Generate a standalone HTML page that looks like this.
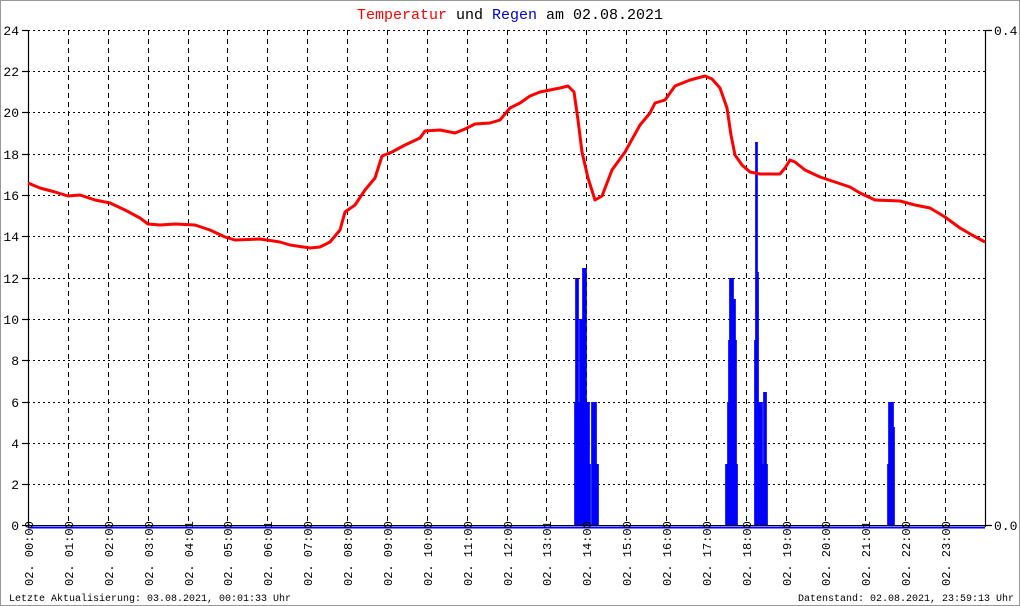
<!DOCTYPE html>
<html><head><meta charset="utf-8"><style>
html,body{margin:0;padding:0;background:#fff}
svg{display:block}
text{font-family:"Liberation Mono","DejaVu Sans Mono",monospace}
</style></head><body>
<svg width="1020" height="606" viewBox="0 0 1020 606" xmlns="http://www.w3.org/2000/svg">
<rect x="0.5" y="0.5" width="1019" height="605" fill="#fff" stroke="#999" stroke-width="1"/>
<text x="510" y="19" text-anchor="middle" font-size="15"><tspan fill="#ff0000">Temperatur</tspan><tspan fill="#000"> und </tspan><tspan fill="#0000cc">Regen</tspan><tspan fill="#000"> am 02.08.2021</tspan></text>
<g stroke="#000" stroke-width="1" stroke-dasharray="2,3">
<line x1="28" x2="985" y1="30.5" y2="30.5"/><line x1="28" x2="985" y1="71.5" y2="71.5"/><line x1="28" x2="985" y1="112.5" y2="112.5"/><line x1="28" x2="985" y1="154.5" y2="154.5"/><line x1="28" x2="985" y1="195.5" y2="195.5"/><line x1="28" x2="985" y1="236.5" y2="236.5"/><line x1="28" x2="985" y1="278.5" y2="278.5"/><line x1="28" x2="985" y1="319.5" y2="319.5"/><line x1="28" x2="985" y1="360.5" y2="360.5"/><line x1="28" x2="985" y1="402.5" y2="402.5"/><line x1="28" x2="985" y1="443.5" y2="443.5"/><line x1="28" x2="985" y1="484.5" y2="484.5"/>
</g>
<g stroke="#000" stroke-width="1" stroke-dasharray="5,4">
<line y1="30" y2="526" x1="68.5" x2="68.5"/><line y1="30" y2="526" x1="108.5" x2="108.5"/><line y1="30" y2="526" x1="148.5" x2="148.5"/><line y1="30" y2="526" x1="188.5" x2="188.5"/><line y1="30" y2="526" x1="227.5" x2="227.5"/><line y1="30" y2="526" x1="267.5" x2="267.5"/><line y1="30" y2="526" x1="307.5" x2="307.5"/><line y1="30" y2="526" x1="347.5" x2="347.5"/><line y1="30" y2="526" x1="387.5" x2="387.5"/><line y1="30" y2="526" x1="427.5" x2="427.5"/><line y1="30" y2="526" x1="467.5" x2="467.5"/><line y1="30" y2="526" x1="507.5" x2="507.5"/><line y1="30" y2="526" x1="546.5" x2="546.5"/><line y1="30" y2="526" x1="586.5" x2="586.5"/><line y1="30" y2="526" x1="626.5" x2="626.5"/><line y1="30" y2="526" x1="666.5" x2="666.5"/><line y1="30" y2="526" x1="706.5" x2="706.5"/><line y1="30" y2="526" x1="746.5" x2="746.5"/><line y1="30" y2="526" x1="786.5" x2="786.5"/><line y1="30" y2="526" x1="825.5" x2="825.5"/><line y1="30" y2="526" x1="865.5" x2="865.5"/><line y1="30" y2="526" x1="905.5" x2="905.5"/><line y1="30" y2="526" x1="945.5" x2="945.5"/>
</g>
<g stroke="#000" stroke-width="1.2">
<line x1="28.5" x2="28.5" y1="30" y2="527"/>
<line x1="985.5" x2="985.5" y1="30" y2="527"/>
<line x1="22" x2="28" y1="30.5" y2="30.5"/><line x1="22" x2="28" y1="71.5" y2="71.5"/><line x1="22" x2="28" y1="112.5" y2="112.5"/><line x1="22" x2="28" y1="154.5" y2="154.5"/><line x1="22" x2="28" y1="195.5" y2="195.5"/><line x1="22" x2="28" y1="236.5" y2="236.5"/><line x1="22" x2="28" y1="278.5" y2="278.5"/><line x1="22" x2="28" y1="319.5" y2="319.5"/><line x1="22" x2="28" y1="360.5" y2="360.5"/><line x1="22" x2="28" y1="402.5" y2="402.5"/><line x1="22" x2="28" y1="443.5" y2="443.5"/><line x1="22" x2="28" y1="484.5" y2="484.5"/><line x1="22" x2="28" y1="525.5" y2="525.5"/>
<line x1="985" x2="992" y1="30.5" y2="30.5"/><line x1="985" x2="992" y1="525.5" y2="525.5"/>
</g>
<g font-size="13" fill="#000" text-anchor="end">
<text x="19" y="35">24</text><text x="19" y="76">22</text><text x="19" y="117">20</text><text x="19" y="159">18</text><text x="19" y="200">16</text><text x="19" y="241">14</text><text x="19" y="283">12</text><text x="19" y="324">10</text><text x="19" y="365">8</text><text x="19" y="407">6</text><text x="19" y="448">4</text><text x="19" y="489">2</text><text x="19" y="530">0</text>
</g>
<text x="994" y="35" font-size="13">0.4</text>
<text x="994" y="530" font-size="13">0.0</text>
<path fill="none" stroke="#0000ff" stroke-width="1.7" d="M575 526V402M576 526V278M577 526V278M578 526V278M579 526V402M580 526V319M581 526V319M582 526V319M583 526V268M584 526V268M585 526V268M586 526V268M587 526V402M588 526V402M589 526V402M590 526V464M592 526V402M593 526V402M594 526V402M595 526V402M596 526V402M597 526V464M598 526V464M726 526V464M727 526V464M728 526V402M729 526V340M730 526V278M731 526V278M732 526V278M733 526V278M734 526V299M735 526V299M736 526V340M737 526V464M755 526V340M756 526V142M757 526V142M758 526V272M759 526V402M760 526V402M761 526V402M762 526V402M763 526V464M764 526V392M765 526V392M766 526V392M767 526V464M888 526V464M889 526V402M890 526V402M891 526V402M892 526V402M893 526V402M894 526V427"/>
<line x1="28" x2="985" y1="525.5" y2="525.5" stroke="#000" stroke-width="1"/>
<line x1="28" x2="985" y1="527.5" y2="527.5" stroke="#0000ff" stroke-width="2"/>
<polyline fill="none" stroke="#ff0000" stroke-width="3" stroke-linejoin="round" points="28,183 40,188 55,192 68,196 80,195 95,200 110,203 125,210 140,218 148,224 160,225 175,224 195,225 210,230 225,237 235,240 260,239 280,242 290,245 310,248 320,247 330,242 340,230 345,212 355,205 365,190 375,178 382,156 392,152 405,145 420,138 425,131 440,130 455,133 465,129 475,124 490,123 500,120 510,108 520,103 530,96 540,92 550,90 560,88 568,86 574,92 578,120 582,152 588,178 595,200 602,196 612,170 625,152 640,125 650,113 655,103 665,100 675,86 690,80 705,76 712,79 720,88 727,108 731,135 735,155 742,165 750,172 760,174 780,174 785,168 790,160 795,162 805,170 820,177 835,182 850,187 860,193 875,200 900,201 915,205 930,208 945,217 960,228 972,235 985,242"/>
<g font-size="12" fill="#000">
<text transform="translate(33,586) rotate(-90)">02. 00:00</text>
<text transform="translate(73,586) rotate(-90)">02. 01:00</text>
<text transform="translate(113,586) rotate(-90)">02. 02:00</text>
<text transform="translate(153,586) rotate(-90)">02. 03:00</text>
<text transform="translate(193,586) rotate(-90)">02. 04:01</text>
<text transform="translate(232,586) rotate(-90)">02. 05:00</text>
<text transform="translate(272,586) rotate(-90)">02. 06:01</text>
<text transform="translate(312,586) rotate(-90)">02. 07:00</text>
<text transform="translate(352,586) rotate(-90)">02. 08:00</text>
<text transform="translate(392,586) rotate(-90)">02. 09:00</text>
<text transform="translate(432,586) rotate(-90)">02. 10:00</text>
<text transform="translate(472,586) rotate(-90)">02. 11:00</text>
<text transform="translate(512,586) rotate(-90)">02. 12:00</text>
<text transform="translate(551,586) rotate(-90)">02. 13:01</text>
<text transform="translate(591,586) rotate(-90)">02. 14:00</text>
<text transform="translate(631,586) rotate(-90)">02. 15:00</text>
<text transform="translate(671,586) rotate(-90)">02. 16:00</text>
<text transform="translate(711,586) rotate(-90)">02. 17:00</text>
<text transform="translate(751,586) rotate(-90)">02. 18:00</text>
<text transform="translate(791,586) rotate(-90)">02. 19:00</text>
<text transform="translate(830,586) rotate(-90)">02. 20:00</text>
<text transform="translate(870,586) rotate(-90)">02. 21:01</text>
<text transform="translate(910,586) rotate(-90)">02. 22:00</text>
<text transform="translate(950,586) rotate(-90)">02. 23:00</text>
</g>
<text x="9" y="601" font-size="10">Letzte Aktualisierung: 03.08.2021, 00:01:33 Uhr</text>
<text x="1014" y="601" font-size="10" text-anchor="end">Datenstand: 02.08.2021, 23:59:13 Uhr</text>
</svg>
</body></html>
